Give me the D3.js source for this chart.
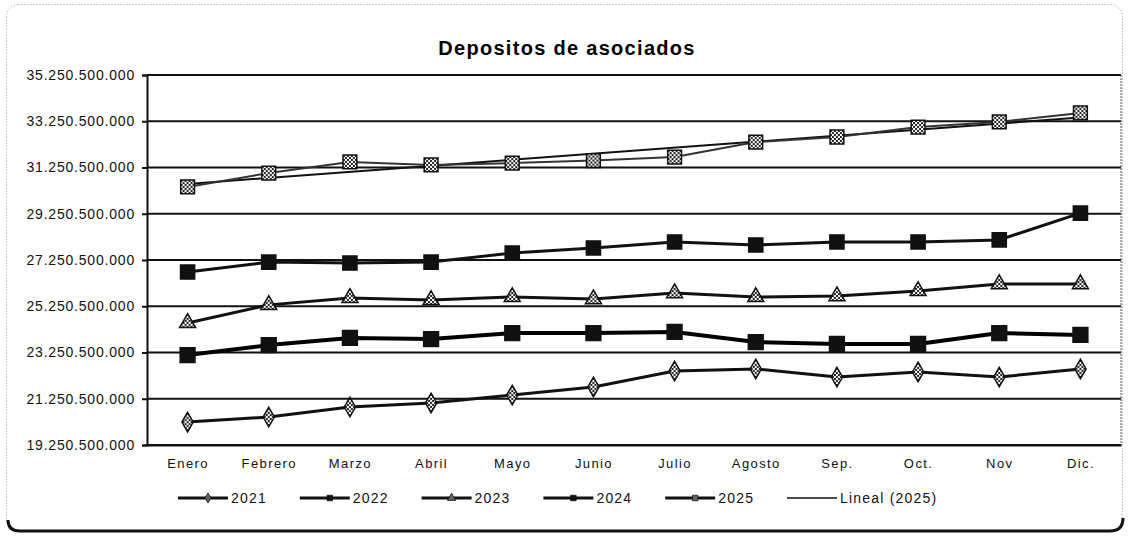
<!DOCTYPE html>
<html>
<head>
<meta charset="utf-8">
<script src="https://cdn.jsdelivr.net/npm/d3@7"></script>
<style>
  body { margin: 0; background: #fff; }
  svg { font-family: Arial, "Liberation Sans", sans-serif; }
</style>
</head>
<body>
<svg width="1128" height="537"></svg>
<script>
// chart data
var months = ["Enero", "Febrero", "Marzo", "Abril", "Mayo", "Junio", "Julio", "Agosto", "Sep.", "Oct.", "Nov", "Dic."];
var yTicks = [19250500000, 21250500000, 23250500000, 25250500000, 27250500000, 29250500000, 31250500000, 33250500000, 35250500000];

var v2021 = [20240000000, 20460000000, 20890000000, 21070000000, 21410000000, 21760000000, 22450000000, 22540000000, 22190000000, 22410000000, 22190000000, 22540000000];
var v2022 = [23140000000, 23570000000, 23880000000, 23830000000, 24090000000, 24090000000, 24140000000, 23700000000, 23620000000, 23620000000, 24090000000, 24010000000];
var v2023 = [24530000000, 25310000000, 25610000000, 25520000000, 25650000000, 25560000000, 25820000000, 25650000000, 25690000000, 25910000000, 26210000000, 26210000000];
var v2024 = [26730000000, 27160000000, 27120000000, 27160000000, 27550000000, 27770000000, 28030000000, 27900000000, 28030000000, 28030000000, 28120000000, 29280000000];
var v2025 = [30410000000, 31010000000, 31490000000, 31360000000, 31440000000, 31550000000, 31700000000, 32350000000, 32570000000, 33000000000, 33220000000, 33610000000];
// Lineal (2025): value of the trend line at Enero and at Dic.
var trend2025 = [30540000000, 33410000000];

var legendNames = ["2021", "2022", "2023", "2024", "2025", "Lineal (2025)"];

var svg = d3.select("svg");

var margin = {left: 147, right: 1121, top: 75, bottom: 445};

var x = d3.scalePoint()
    .domain(months)
    .range([margin.left, margin.right])
    .padding(0.5);

var y = d3.scaleLinear()
    .domain([yTicks[0], yTicks[yTicks.length - 1]])
    .range([margin.bottom, margin.top]);

var es = d3.formatLocale({decimal: ",", thousands: ".", grouping: [3], currency: ["$", ""]});
var fmt = es.format(",d");

// hatch pattern for the light markers
var defs = svg.append("defs");
var pat = defs.append("pattern")
    .attr("id", "hatch")
    .attr("patternUnits", "userSpaceOnUse")
    .attr("width", 4).attr("height", 4);
pat.append("rect").attr("width", 4).attr("height", 4).attr("fill", "#fff");
pat.append("path").attr("d", "M0,0L4,4M4,0L0,4").attr("stroke", "#222").attr("stroke-width", 1);

// outer frame (scanned page)
svg.append("rect")
    .attr("x", 6.5).attr("y", 4.5)
    .attr("width", 1116).attr("height", 526)
    .attr("rx", 12)
    .attr("fill", "none")
    .attr("stroke", "#999")
    .attr("stroke-dasharray", "1,2");
svg.append("path")
    .attr("d", "M8,520 Q8,531 20,531 H1110 Q1123,531 1123,518")
    .attr("fill", "none")
    .attr("stroke", "#111")
    .attr("stroke-width", 3);

// title
svg.append("text")
    .attr("x", 567).attr("y", 55)
    .attr("text-anchor", "middle")
    .style("font-size", "20px")
    .style("font-weight", "bold")
    .style("letter-spacing", "1.3px")
    .text("Depositos de asociados");

var g = svg.append("g");

// horizontal gridlines
g.selectAll(".grid")
    .data(yTicks)
    .enter().append("line")
    .attr("class", "grid")
    .attr("x1", margin.left).attr("x2", margin.right)
    .attr("y1", function (d) { return y(d); })
    .attr("y2", function (d) { return y(d); })
    .attr("stroke", "#111")
    .attr("stroke-width", 2);

// right border of plot
g.append("line")
    .attr("x1", margin.right).attr("x2", margin.right)
    .attr("y1", margin.top).attr("y2", margin.bottom)
    .attr("stroke", "#555").attr("stroke-dasharray", "2,1");

// y axis
var yAxis = d3.axisLeft(y)
    .tickValues(yTicks)
    .tickSize(5)
    .tickFormat(fmt);
var ya = g.append("g")
    .attr("transform", "translate(" + margin.left + ",0)")
    .call(yAxis);
ya.select(".domain").attr("stroke", "#111").attr("stroke-width", 2);
ya.selectAll(".tick line").attr("stroke", "#111").attr("stroke-width", 2);
ya.selectAll(".tick text")
    .attr("x", -12)
    .style("font-size", "14px")
    .style("letter-spacing", "0.8px")
    .style("font-family", "Arial, 'Liberation Sans', sans-serif")
    .attr("fill", "#111");

// x axis
var xAxis = d3.axisBottom(x).tickSize(0);
var xa = g.append("g")
    .attr("transform", "translate(0," + margin.bottom + ")")
    .call(xAxis);
xa.select(".domain").attr("stroke", "#111").attr("stroke-width", 2);
xa.selectAll(".tick text")
    .attr("y", 14)
    .style("font-size", "13px")
    .style("letter-spacing", "1.4px")
    .style("font-family", "Arial, 'Liberation Sans', sans-serif")
    .attr("fill", "#111");

var line = d3.line()
    .x(function (d, i) { return x(months[i]); })
    .y(function (d) { return y(d); });

var series = [
    {name: "2021", values: v2021, width: 3, color: "#111", shape: d3.symbolDiamond, size: 110, fill: "url(#hatch)"},
    {name: "2022", values: v2022, width: 4, color: "#000", shape: d3.symbolSquare, size: 220, fill: "#111"},
    {name: "2023", values: v2023, width: 3, color: "#111", shape: d3.symbolTriangle, size: 110, fill: "url(#hatch)"},
    {name: "2024", values: v2024, width: 3, color: "#111", shape: d3.symbolSquare, size: 200, fill: "#111"},
    {name: "2025", values: v2025, width: 2, color: "#333", shape: d3.symbolSquare, size: 190, fill: "url(#hatch)"}
];

// trend line for 2025
g.append("line")
    .attr("x1", x(months[0])).attr("y1", y(trend2025[0]))
    .attr("x2", x(months[months.length - 1])).attr("y2", y(trend2025[1]))
    .attr("stroke", "#111").attr("stroke-width", 2);

series.forEach(function (s) {
    g.append("path")
        .datum(s.values)
        .attr("fill", "none")
        .attr("stroke", s.color)
        .attr("stroke-width", s.width)
        .attr("stroke-linejoin", "round")
        .attr("d", line);

    g.selectAll(".m" + s.name)
        .data(s.values)
        .enter().append("path")
        .attr("class", "m" + s.name)
        .attr("transform", function (d, i) { return "translate(" + x(months[i]) + "," + y(d) + ")"; })
        .attr("d", d3.symbol().type(s.shape).size(s.size))
        .attr("fill", s.fill)
        .attr("stroke", "#111")
        .attr("stroke-width", 1.5);
});

// legend
var legend = svg.append("g").attr("transform", "translate(0,498)");
var legX = d3.scalePoint().domain(legendNames).range([178, 787]);
legendNames.forEach(function (name, i) {
    var lx = legX(name);
    var item = legend.append("g").attr("transform", "translate(" + lx + ",0)");
    item.append("line")
        .attr("x1", 0).attr("x2", 50)
        .attr("stroke", "#111")
        .attr("stroke-width", i < 5 ? 3 : 1.5);
    if (i < 5) {
        item.append("path")
            .attr("transform", "translate(30,0)")
            .attr("d", d3.symbol().type(series[i].shape).size(30))
            .attr("fill", series[i].fill === "#111" ? "#111" : "#666")
            .attr("stroke", "#111").attr("stroke-width", 0.8);
    }
    item.append("text")
        .attr("x", 53).attr("dy", "0.35em")
        .style("font-size", "14px")
        .style("letter-spacing", "1.2px")
        .attr("fill", "#111")
        .text(name);
});
</script>
</body>
</html>
